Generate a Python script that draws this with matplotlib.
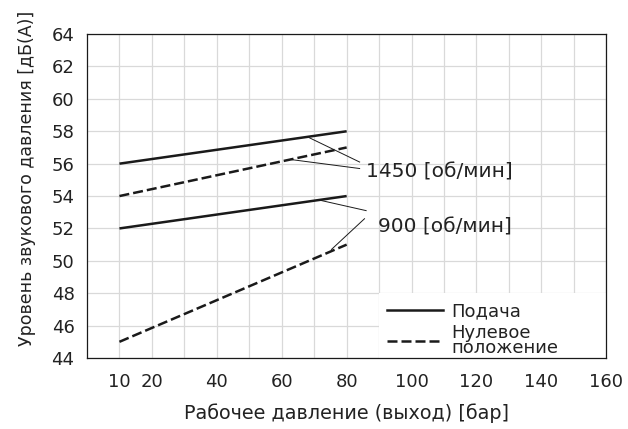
import matplotlib
matplotlib.use("Agg")
import matplotlib.pyplot as plt
from matplotlib.lines import Line2D
from matplotlib.patches import Rectangle

# data
pressure = [10, 80]
feed_1450 = [56, 58]
zero_1450 = [54, 57]
feed_900 = [52, 54]
zero_900 = [45, 51]

x_ticks = [10, 20, 40, 60, 80, 100, 120, 140, 160]
y_ticks = list(range(44, 65, 2))

plt.rcParams['font.family'] = ['DejaVu Sans']
txt = '#222222'
ink = '#1a1a1a'
dash = (0, (4, 1.6))

fig = plt.figure(figsize=(6.28, 4.29), dpi=100)
ax = fig.add_axes([0.1385, 0.1655, 0.827, 0.755])

ax.plot(pressure, feed_1450, color=ink, lw=1.8, solid_capstyle='butt')
ax.plot(pressure, zero_1450, color=ink, lw=1.8, ls=dash)
ax.plot(pressure, feed_900, color=ink, lw=1.8, solid_capstyle='butt')
ax.plot(pressure, zero_900, color=ink, lw=1.8, ls=dash)

# leader lines to the speed labels
lead = dict(color=ink, lw=0.7)
ax.plot([68.5, 84], [57.6, 56.1], **lead)
ax.plot([63, 84], [56.25, 55.7], **lead)
ax.plot([71.6, 86], [53.75, 53.1], **lead)
ax.plot([75.3, 85.5], [50.7, 52.6], **lead)
ax.text(86.1, 55.16, '1450 [об/мин]', fontsize=14.5, color=txt, va='baseline')
ax.text(89.8, 51.78, '900 [об/мин]', fontsize=14.5, color=txt, va='baseline')

ax.set_xlim(0, 160)
ax.set_ylim(44, 64)
ax.set_xticks(x_ticks)
ax.set_yticks(y_ticks)
ax.set_xticks(range(10, 160, 10), minor=True)
ax.grid(True, which='both', color='#d9d9d9', lw=0.9)
ax.set_axisbelow(True)
ax.tick_params(which='both', length=0, labelsize=13, colors=txt)
ax.tick_params(axis='x', pad=11)
ax.tick_params(axis='y', pad=9)
for s in ax.spines.values():
    s.set_linewidth(0.9)
    s.set_color(ink)

ax.set_xlabel('Рабочее давление (выход) [бар]', fontsize=13.8, color=txt, labelpad=9)
ax.set_ylabel('Уровень звукового давления [дБ(А)]', fontsize=12.5, color=txt)
ax.yaxis.set_label_coords(-0.099, 0.555)

# white patch behind the legend hides the grid there
ax.add_patch(Rectangle((90, 44), 70, 4, facecolor='white', edgecolor='none', zorder=1.5))

handles = [Line2D([], [], color=ink, lw=1.8),
           Line2D([], [], color=ink, lw=1.8, ls=dash)]
leg = ax.legend(handles, ['Подача', 'Нулевое\nположение'], loc='upper left',
                bbox_to_anchor=(0.578, 0.172), frameon=False,
                fontsize=13, handlelength=3.1, handletextpad=0.45,
                labelspacing=0.22, borderpad=0, borderaxespad=0)
for t in leg.get_texts():
    t.set_color(txt)
    t.set_linespacing(0.78)

fig.savefig('out.png', dpi=100)
